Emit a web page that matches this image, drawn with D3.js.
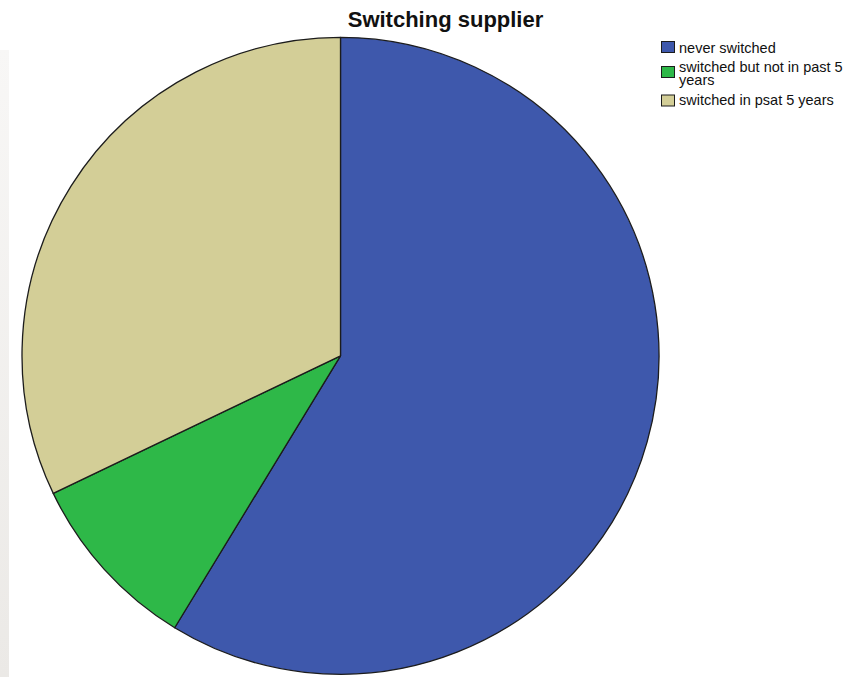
<!DOCTYPE html>
<html>
<head>
<meta charset="utf-8">
<script src="https://cdn.jsdelivr.net/npm/d3@7"></script>
<style>
  html, body { margin: 0; padding: 0; background: #ffffff; }
  svg { display: block; }
</style>
</head>
<body>
<svg id="chart" width="868" height="677"></svg>
<script>
// Responses per category
const categories = ["never switched", "switched but not in past 5 years", "switched in psat 5 years"];
const counts = [64, 10, 35];
const colors = ["#3e58ac", "#2eb848", "#d3ce97"];
// Legend rows (long label wraps onto two lines)
const legendLines = [["never switched"], ["switched but not in past 5", "years"], ["switched in psat 5 years"]];

const svg = d3.select("#chart");
const W = 868, H = 677;

// faint grey strip along the left edge
const defs = svg.append("defs");
const grad = defs.append("linearGradient").attr("id", "edge").attr("x1", 0).attr("y1", 0).attr("x2", 0).attr("y2", 1);
grad.append("stop").attr("offset", "0%").attr("stop-color", "#f8f7f6");
grad.append("stop").attr("offset", "100%").attr("stop-color", "#ebe9e6");
svg.append("rect").attr("x", 0).attr("y", 50).attr("width", 9).attr("height", H - 50).attr("fill", "url(#edge)");

// title
svg.append("text")
  .attr("x", 445.5).attr("y", 27)
  .attr("text-anchor", "middle")
  .attr("font-family", "'Liberation Sans', Arial, sans-serif")
  .attr("font-weight", "bold")
  .attr("font-size", 22)
  .attr("fill", "#111")
  .text("Switching supplier");

// pie
const cx = 340.5, cy = 355.8, r = 318.5;
const pie = d3.pie().sort(null).value(d => d)(counts);
const arc = d3.arc().innerRadius(0).outerRadius(r);
const g = svg.append("g").attr("transform", `translate(${cx},${cy})`);
g.selectAll("path")
  .data(pie)
  .join("path")
  .attr("d", arc)
  .attr("fill", (d, i) => colors[i])
  .attr("stroke", "#1c1c1c")
  .attr("stroke-width", 1.3)
  .attr("stroke-linejoin", "round");

// legend
const boxY = [41.5, 66.5, 95];
const textY = [53, 71.5, 105];
const leg = svg.append("g").attr("font-family", "'Liberation Sans', Arial, sans-serif").attr("font-size", 14.5).attr("fill", "#111");
categories.forEach((c, i) => {
  leg.append("rect")
    .attr("x", 661.5).attr("y", boxY[i])
    .attr("width", 13).attr("height", 11)
    .attr("fill", colors[i])
    .attr("stroke", "#1c1c1c").attr("stroke-width", 1);
  const t = leg.append("text").attr("x", 679).attr("y", textY[i]);
  legendLines[i].forEach((line, j) => {
    t.append("tspan").attr("x", 679).attr("dy", j === 0 ? 0 : 13.5).text(line);
  });
});
</script>
</body>
</html>
